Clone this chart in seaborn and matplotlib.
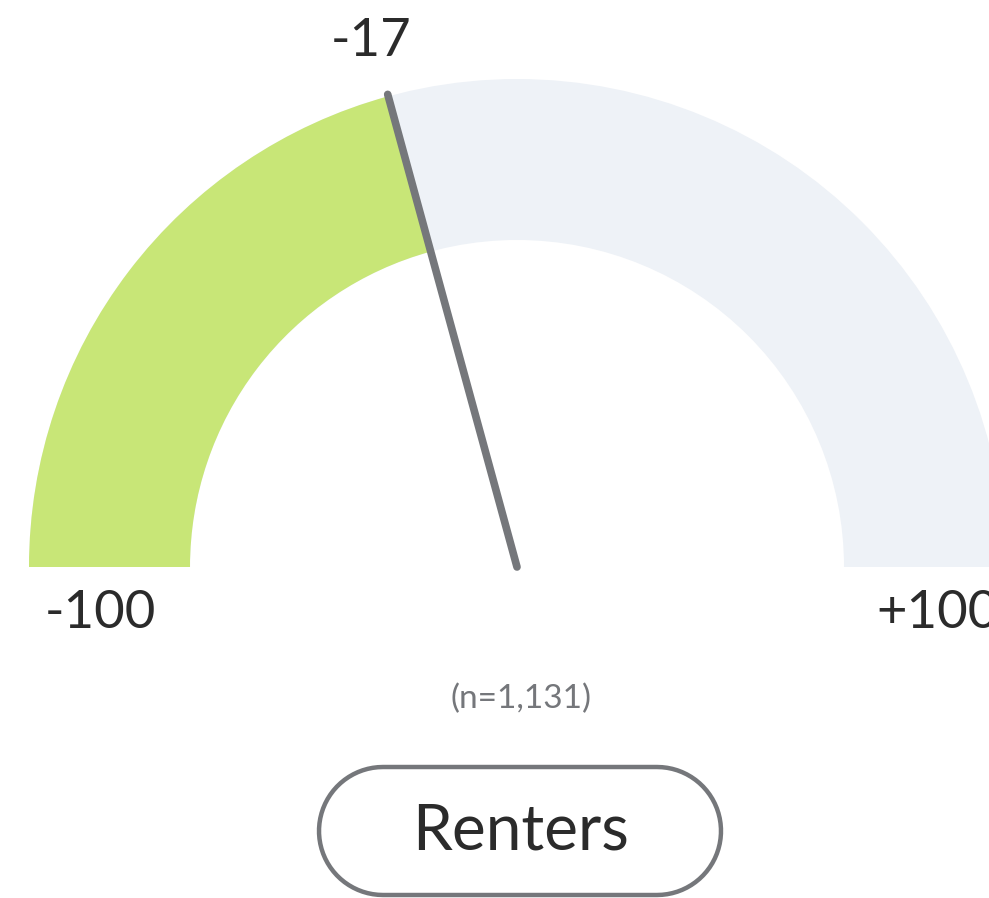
import numpy as np
import pandas as pd
import seaborn as sns
import matplotlib.pyplot as plt
from matplotlib.patches import Wedge, Polygon

# gauge data
score = -17
scale_min = -100
scale_max = 100
n_resp = 1131
group = "Renters"

sns.set_theme(style="white")
plt.rcParams['font.family'] = ['Lato', 'DejaVu Sans']

fig = plt.figure(figsize=(9.89, 8.98), dpi=100)
ax = fig.add_axes([0, 0, 1, 1])

cx, cy = 517, 567
r_out, r_in = 488, 327

def to_angle(v):
    # -100 -> 180 deg, +100 -> 0 deg
    return 180 - (v - scale_min) / (scale_max - scale_min) * 180

a = to_angle(score)
# y axis is inverted, so angles are negated
ax.add_patch(Wedge((cx, cy), r_out, -180, 0, width=r_out - r_in, color="#eef2f7", lw=0))
ax.add_patch(Wedge((cx, cy), r_out, -180, -a, width=r_out - r_in, color="#c8e677", lw=0))

# needle
needle = pd.DataFrame({
    "x": [cx, cx + (r_out + 2) * np.cos(np.radians(a))],
    "y": [cy, cy - (r_out + 2) * np.sin(np.radians(a))],
})
sns.lineplot(data=needle, x="x", y="y", ax=ax, color="#75777b", lw=5.5,
             solid_capstyle="round", sort=False)

txt = "#2b2b2b"
ax.text(371, 42, f"{score}", ha="center", va="center", fontsize=38, color=txt)
ax.text(100, 613, f"{scale_min}", ha="center", va="center", fontsize=38, color=txt)
ax.text(876, 613, f"+{scale_max}", ha="left", va="center", fontsize=38, color=txt)
ax.text(521, 699, f"(n={n_resp:,})", ha="center", va="center", fontsize=24, color="#75777b")

# pill-shaped label box
bx0, bx1, by, br = 383, 657, 831, 64
t = np.linspace(np.pi / 2, 3 * np.pi / 2, 40)
left = np.column_stack([bx0 + br * np.cos(t), by - br * np.sin(t)])
right = np.column_stack([bx1 - br * np.cos(t), by + br * np.sin(t)])
ax.add_patch(Polygon(np.vstack([left, right]), closed=True, fc="white", ec="#75777b", lw=3.2))
ax.text(521, 832, group, ha="center", va="center", fontsize=46, color=txt)

ax.set_xlim(0, 989)
ax.set_ylim(898, 0)
ax.set_aspect('equal')
ax.axis('off')

fig.savefig("out.png", dpi=100)
